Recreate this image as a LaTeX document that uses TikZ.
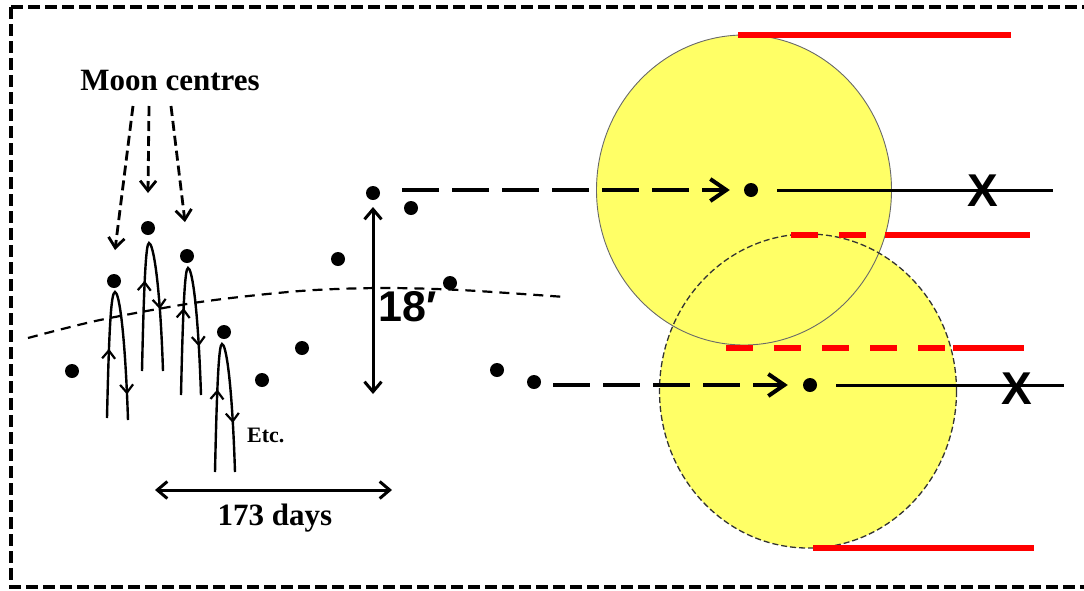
\documentclass[tikz,border=0pt]{standalone}
\usepackage{fontspec}
\setmainfont{Liberation Serif}
\newfontfamily\labelsans{Liberation Sans}
\usetikzlibrary{arrows.meta,decorations.markings}
\definecolor{moonfill}{RGB}{255,255,102}
\definecolor{rimgray}{RGB}{105,105,105}

\begin{document}
\begin{tikzpicture}[x=1pt,y=-1pt,
  dot/.style={circle,fill=black,inner sep=0pt,minimum size=14pt},
  frame/.style={line width=3.5pt,dash pattern=on 12pt off 5pt},
  ecliptic/.style={line width=2.2pt,dash pattern=on 10pt off 7pt},
  pointer/.style={line width=2.8pt,dash pattern=on 10pt off 5pt,
    -{Straight Barb[length=10pt,width=16pt,line width=2.8pt]}},
  moonpath/.style 2 args={line width=2.4pt,postaction={decorate},
    decoration={markings,
      mark=at position #1 with {\arrow{Straight Barb[length=8pt,width=13pt,line width=2.2pt]}},
      mark=at position #2 with {\arrow{Straight Barb[length=8pt,width=13pt,line width=2.2pt]}}}},
  span/.style={line width=3pt,
    {Straight Barb[length=10pt,width=17pt,line width=3pt]}-{Straight Barb[length=10pt,width=17pt,line width=3pt]}},
  track/.style={line width=4pt,dash pattern=on 37pt off 13pt,
    -{Straight Barb[length=16pt,width=22pt,line width=4pt]}},
  trail/.style={line width=3pt},
  redbar/.style={red,line width=6pt},
  reddash/.style={red,line width=6pt,dash pattern=on 27pt off 21pt},
  serifbold/.style={font=\bfseries\fontsize{#1}{#1}\selectfont,inner sep=0pt},
  cross/.style={font=\labelsans\bfseries\fontsize{46}{46}\selectfont,inner sep=0pt}
]
\clip (0,0) rectangle (1084,590);

% outer dashed frame
\draw[frame] (11,7) -- (1100,7);
\draw[frame] (11,7) -- (11,587) -- (1100,587);

% ---------------- left panel ----------------
% ecliptic
\draw[ecliptic] plot[smooth] coordinates
  {(28,338) (100,320) (200,302) (300,291) (380,288) (460,290) (565,297)};

% successive Moon centres
\node[dot] (d1)  at (72,371) {};
\node[dot] (d2)  at (114,281) {};
\node[dot] (d3)  at (148,228) {};
\node[dot] (d4)  at (187,256) {};
\node[dot] (d5)  at (224,332) {};
\node[dot] (d6)  at (262,380) {};
\node[dot] (d7)  at (302,348) {};
\node[dot] (d8)  at (338,259) {};
\node[dot] (d9)  at (373,193) {};
\node[dot] (d10) at (411,208) {};
\node[dot] (d11) at (450,283) {};
\node[dot] (d12) at (497,370) {};
\node[dot] (d13) at (534,382) {};

% monthly up-and-down paths under the centres
\draw[moonpath={0.27}{0.9}] (107,418) .. controls (109,330) and (111,292) .. (115,292)
  .. controls (119,292) and (125,330) .. (128,420);
\draw[moonpath={0.35}{0.76}] (142,371) .. controls (144,280) and (146,243) .. (149,243)
  .. controls (153,243) and (160,280) .. (163,371);
\draw[moonpath={0.34}{0.81}] (181,395) .. controls (183,305) and (185,268) .. (188,268)
  .. controls (192,268) and (198,305) .. (201,395);
\draw[moonpath={0.32}{0.81}] (215,472) .. controls (217,380) and (219,344) .. (222,344)
  .. controls (226,344) and (232,380) .. (235,472);

% labels
\node[serifbold=31] (mc) at (170,80) {Moon centres};
\coordinate (p1) at (115,250);
\coordinate (p2) at (148,193);
\coordinate (p3) at (185,222);
\draw[pointer] (133,106) -- (p1);
\draw[pointer] (149,106) -- (p2);
\draw[pointer] (171,106) -- (p3);

\node[serifbold=22,anchor=base west] (etc) at (247,442) {Etc.};

\coordinate (sl) at (155,490);
\coordinate (sr) at (392,490);
\draw[span] (sl) -- (sr);
\node[serifbold=31,anchor=base] (days) at (275,525) {173 days};

\coordinate (ht) at (373,207);
\coordinate (hb) at (373,394);
\draw[span] (ht) -- (hb);
\node[font=\labelsans\bfseries\fontsize{43}{43}\selectfont,inner sep=0pt,anchor=base west]
  (deg) at (378,321) {18\char"2032};

% ---------------- right panel ----------------
\fill[moonfill] (744,190) ellipse [x radius=147.5, y radius=155];
\fill[moonfill] (808,391) ellipse [x radius=148.5, y radius=157];
\draw[rimgray,line width=0.9pt] (744,190) ellipse [x radius=147.5, y radius=155];
\draw[black!80,line width=1.3pt,dash pattern=on 6pt off 3pt] (808,391) ellipse [x radius=148.5, y radius=157];

% limb lines
\draw[redbar] (738,35) -- (1011,35);
\draw[reddash] (791,235) -- (885,235);
\draw[redbar] (885,235) -- (1030,235);
\draw[reddash] (726,348) -- (951,348);
\draw[redbar] (953,348) -- (1024,348);
\draw[redbar] (813,548) -- (1034,548);

% Moon tracks
\node[dot] (udot) at (751,190) {};
\node[dot] (ldot) at (810,385) {};
\coordinate (ustart) at (402,190);
\coordinate (uend) at (1053,190);
\coordinate (lstart) at (553,385);
\coordinate (lend) at (1064,385);
\draw[track,shorten >=14pt] (ustart) -- (udot);
\draw[trail,shorten <=19pt] (udot) -- (uend);
\draw[track,shorten >=15pt] (lstart) -- (ldot);
\draw[trail,shorten <=19pt] (ldot) -- (lend);

\node[cross] (ux) at (983,191) {X};
\node[cross] (lx) at (1017,389) {X};
\end{tikzpicture}
\end{document}
